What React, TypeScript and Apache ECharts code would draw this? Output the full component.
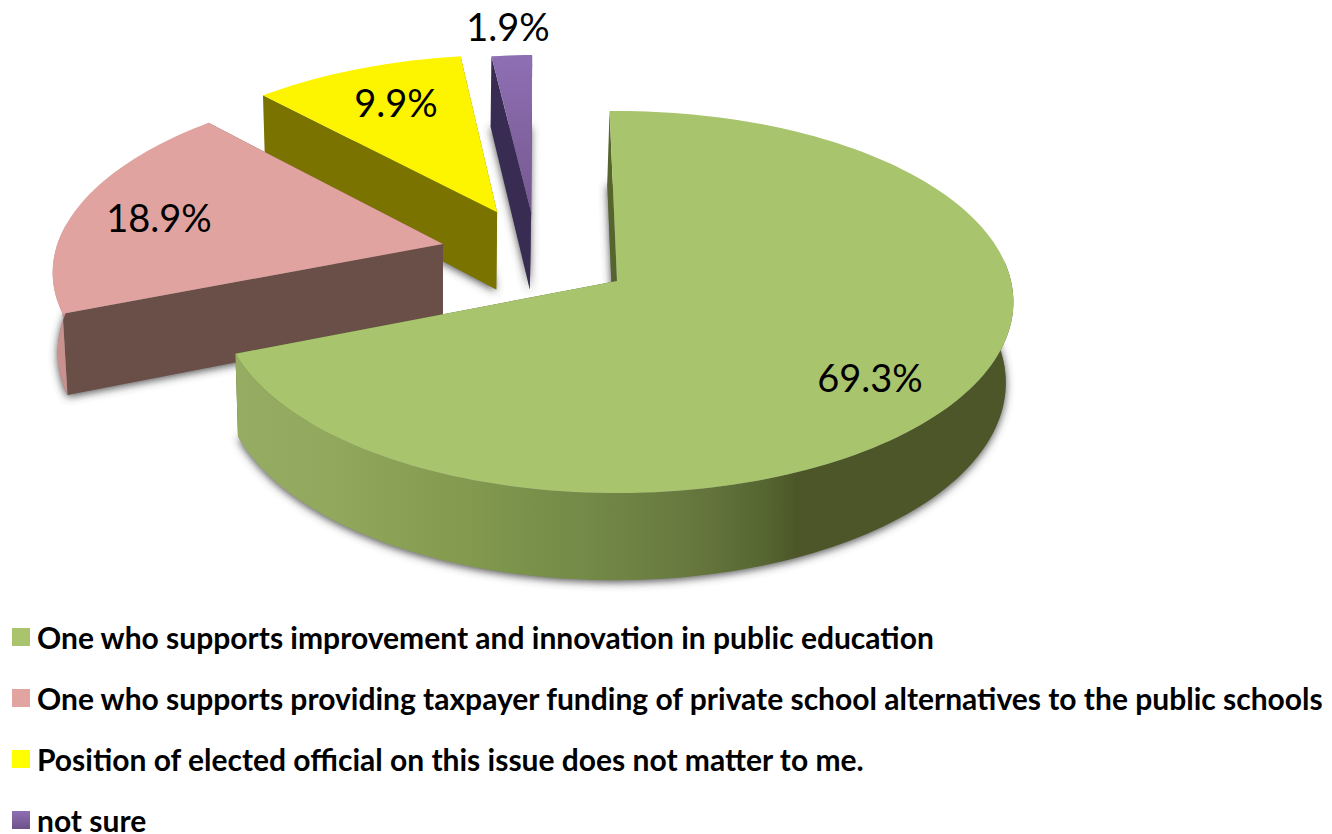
import React, { useEffect, useRef } from "react";
import * as echarts from "echarts";

const categories = [
  "One who supports improvement and innovation in public education",
  "One who supports providing taxpayer funding of private school alternatives to the public schools",
  "Position of elected official on this issue does not matter to me.",
  "not sure",
];
const values = [69.3, 18.9, 9.9, 1.9];

// styling / layout, kept apart from the data
const topColors: any[] = [
  "#a8c46c",
  "#e0a3a0",
  "#fdf500",
  new echarts.graphic.LinearGradient(0, 0, 0, 1, [
    { offset: 0, color: "#8f6fb4" },
    { offset: 1, color: "#75588f" },
  ]),
];
const legendColors: any[] = [
  "#a9c46c",
  "#e2a4a1",
  "#ffff00",
  new echarts.graphic.LinearGradient(0, 0, 0, 1, [
    { offset: 0, color: "#8f6fb4" },
    { offset: 1, color: "#6c5288" },
  ]),
];
const arcWallColors: any[] = [
  new echarts.graphic.LinearGradient(0, 0, 1, 0, [
    { offset: 0, color: "#97ac63" },
    { offset: 0.12, color: "#91a85d" },
    { offset: 0.3, color: "#82994e" },
    { offset: 0.45, color: "#738a48" },
    { offset: 0.58, color: "#68793f" },
    { offset: 0.68, color: "#566632" },
    { offset: 0.72, color: "#4d5628" },
    { offset: 1, color: "#4d5628" },
  ]),
  "#c8918e",
  "#7a7300",
  "#3a2f57",
];
const radialWallColors = ["#55652d", "#6a4e48", "#7a7300", "#382c52"];
const explode = [
  [0, 0],
  [-0.4515, -0.2],
  [-0.317, -0.38],
  [-0.227, -0.38],
];
const labelPositions = [
  [870, 377],
  [159, 217],
  [396, 102],
  [508, 26],
];
const paintOrder = [3, 2, 1, 0];

const START_DEG = -91.2;
const CX = 617;
const CY = 281;
const A = 394;
const B = 188.7;
const K = 0.11;
const DEPTH = 80;

const total = values.reduce((a, b) => a + b, 0);

function project(X: number, Y: number, low: boolean): number[] {
  const d = 1 - K * Y;
  let sx = CX + (A * X) / d;
  let sy = CY + (B * Y) / d;
  if (low) {
    sy += DEPTH * (1 + 0.09 * Y);
    sx = 430 + (sx - 430) * (1 - 0.013);
  }
  return [sx, sy];
}

function renderSlice(index: number) {
  return (_params: any, api: any) => {
    const value = api.value(0);
    let before = 0;
    for (let i = 0; i < index; i++) before += values[i];
    const a0 = START_DEG + (before / total) * 360;
    const a1 = a0 + (value / total) * 360;
    const [ox, oy] = explode[index];
    const rim: number[][] = [];
    const front: number[][] = [];
    const n = Math.max(4, Math.ceil((a1 - a0) / 1.5));
    for (let i = 0; i <= n; i++) {
      const t = ((a0 + ((a1 - a0) * i) / n) * Math.PI) / 180;
      const p = [ox + Math.cos(t), oy + Math.sin(t)];
      rim.push(p);
      if (Math.sin(t) > -0.12) front.push(p);
    }
    const topRim = rim.map((p) => project(p[0], p[1], false));
    const lowRim = rim.map((p) => project(p[0], p[1], true));
    const frontTop = front.map((p) => project(p[0], p[1], false));
    const frontLow = front.map((p) => project(p[0], p[1], true));
    const apexTop = project(ox, oy, false);
    const apexLow = project(ox, oy, true);
    const last = rim.length - 1;
    const lx = labelPositions[index];
    const children: any[] = [
      {
        type: "polygon",
        shape: { points: [apexLow, ...lowRim] },
        style: { fill: "#808080", shadowBlur: 8, shadowColor: "rgba(60,60,60,0.9)", shadowOffsetY: 2 },
        silent: true,
      },
      {
        type: "polygon",
        shape: { points: [apexTop, topRim[last], lowRim[last], apexLow] },
        style: { fill: radialWallColors[index] },
        silent: true,
      },
      {
        type: "polygon",
        shape: { points: [apexTop, topRim[0], lowRim[0], apexLow] },
        style: { fill: radialWallColors[index] },
        silent: true,
      },
    ];
    if (front.length > 1) {
      children.push({
        type: "polygon",
        shape: { points: [...frontTop, ...frontLow.slice().reverse()] },
        style: { fill: arcWallColors[index] },
        silent: true,
      });
    }
    children.push(
      {
        type: "polygon",
        shape: { points: [apexTop, ...topRim] },
        style: { fill: topColors[index] },
        silent: true,
      },
      {
        type: "text",
        x: lx[0],
        y: lx[1],
        style: {
          text: value.toFixed(1) + "%",
          fill: "#000",
          font: "38px Lato",
          align: "center",
          verticalAlign: "middle",
        },
        silent: true,
      }
    );
    return { type: "group", children };
  };
}

export default function App() {
  const ref = useRef<HTMLDivElement>(null);
  useEffect(() => {
    const chart = echarts.init(ref.current!, null, { renderer: "svg" });
    chart.setOption({
      animation: false,
      backgroundColor: "#fff",
      legend: {
        left: 12,
        top: 617,
        height: 400,
        orient: "vertical",
        align: "left",
        itemWidth: 18,
        itemHeight: 18,
        itemGap: 21,
        selectedMode: false,
        padding: 0,
        data: categories.map((name, i) => ({ name, icon: "rect", itemStyle: { color: legendColors[i] } })),
        textStyle: { fontFamily: "Lato", fontWeight: "bold", fontSize: 30, color: "#000", padding: [13, 0, 0, 2], lineHeight: 27 },
      },
      series: paintOrder.map((i) => ({
        type: "custom",
        name: categories[i],
        coordinateSystem: "none",
        data: [[values[i]]],
        itemStyle: { color: legendColors[i] },
        renderItem: renderSlice(i),
        silent: true,
      })),
    });
    return () => chart.dispose();
  }, []);
  return <div ref={ref} style={{ position: "absolute", left: 0, top: 0, width: 1332, height: 834 }} />;
}
